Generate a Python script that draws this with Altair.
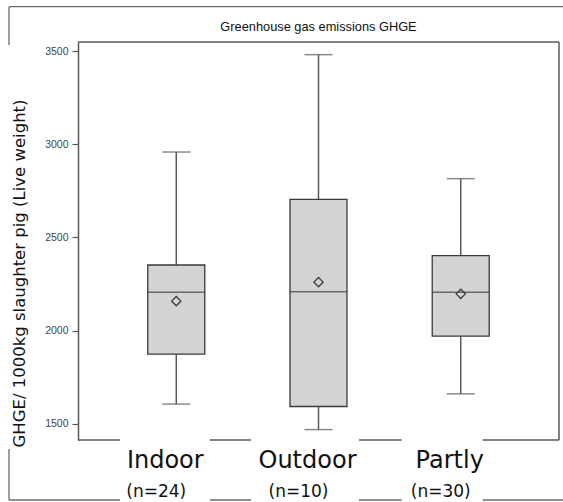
import altair as alt
import pandas as pd

# Box-plot statistics per production system (GHGE per 1000 kg slaughter pig)
systems = ["Indoor", "Outdoor", "Partly"]
n_farms = [24, 10, 30]
whisker_low = [1605, 1468, 1660]
q1 = [1873, 1592, 1970]
median = [2206, 2209, 2206]
mean = [2158, 2260, 2197]
q3 = [2352, 2705, 2402]
whisker_high = [2959, 3482, 2816]
y_ticks = [1500, 2000, 2500, 3000, 3500]

df = pd.DataFrame({
    "system": systems,
    "low": whisker_low,
    "q1": q1,
    "median": median,
    "mean": mean,
    "q3": q3,
    "high": whisker_high,
    "n_label": [f"(n={n})" for n in n_farms],
})

W, H = 481, 398
LINE = "#585858"
EDGE = "#3a3a3a"
FILL = "#d4d4d4"

x_enc = alt.X("system:N", sort=systems, axis=None,
              scale=alt.Scale(paddingInner=0, paddingOuter=0.191))
y_scale = alt.Scale(domain=[1412, 3550], nice=False, zero=False)
y_axis = alt.Axis(
    title="GHGE/ 1000kg slaughter  pig (Live weight)",
    values=y_ticks, format="d", grid=False,
    domainColor=LINE, domainWidth=1.5,
    tickColor=LINE, tickWidth=1.2, tickSize=6,
    labelFont="Liberation Sans", labelFontSize=10.5, labelColor="#444444",
    labelPadding=4,
    titleFont="DejaVu Sans", titleFontSize=16.5, titleFontWeight="normal",
    titleColor="#111111", titleAngle=270, titleAlign="center",
    titleBaseline="alphabetic", titleX=-54, titleY=231,
)


def Y(field):
    return alt.Y(f"{field}:Q", scale=y_scale, axis=y_axis)


def seg(x1, x2, y1, y2, color=LINE, width=1.5):
    enc = dict(x=alt.value(x1), y=alt.value(y1))
    if x2 != x1:
        enc["x2"] = alt.value(x2)
    if y2 != y1:
        enc["y2"] = alt.value(y2)
    return (alt.Chart(alt.Data(values=[{"k": 0}]))
            .mark_rule(color=color, strokeWidth=width)
            .encode(**enc))


# Frame: plot border (bottom edge interrupted under the category labels)
gaps = [(0, 42), (132, 173), (281, 323.7), (404.7, W)]
frame = [seg(0, W, 0, 0), seg(W, W, 0, H)]
frame += [seg(a, b, H, H) for a, b in gaps]
# Outer frame around the whole figure
OX, OT, OB, OR = -69, -35.3, 458, 485
outer_gaps = [(OX, 42), (132, 173), (281, 323.7), (404.7, OR)]
frame += [seg(OX, OR, OT, OT, "#6a6a6a", 1.3),
          seg(OX, OX, OT, 3, "#6a6a6a", 1.3),
          seg(OX, OX, 407, OB, "#6a6a6a", 1.3)]
frame += [seg(a, b, OB, OB, "#6a6a6a", 1.3) for a, b in outer_gaps]

base = alt.Chart(df)

whisker_lo = base.mark_rule(color=LINE, strokeWidth=1.5).encode(
    x=x_enc, y=Y("low"), y2="q1:Q")
whisker_hi = base.mark_rule(color=LINE, strokeWidth=1.5).encode(
    x=x_enc, y=Y("q3"), y2="high:Q")
cap_lo = base.mark_tick(size=28, thickness=1.5, color=LINE, orient="horizontal").encode(
    x=x_enc, y=Y("low"))
cap_hi = base.mark_tick(size=28, thickness=1.5, color=LINE, orient="horizontal").encode(
    x=x_enc, y=Y("high"))
box = base.mark_bar(size=57, fill=FILL, stroke=EDGE, strokeWidth=1.3).encode(
    x=x_enc, y=Y("q1"), y2="q3:Q")
med = base.mark_tick(size=57, thickness=1.5, color=EDGE, orient="horizontal").encode(
    x=x_enc, y=Y("median"))
avg = base.mark_point(shape="diamond", size=85, filled=False, color=EDGE,
                      strokeWidth=1.3, opacity=1).encode(x=x_enc, y=Y("mean"))

cat_label = base.mark_text(font="DejaVu Sans", fontSize=24, baseline="alphabetic",
                           align="center", dx=-11, color="#111111").encode(
    x=x_enc, y=alt.value(426), text="system:N")
n_label = base.mark_text(font="DejaVu Sans", fontSize=17, baseline="alphabetic",
                         align="center", dx=-20, color="#111111").encode(
    x=x_enc, y=alt.value(454.5), text="n_label:N")

title = (alt.Chart(alt.Data(values=[{"t": "Greenhouse gas emissions GHGE"}]))
         .mark_text(font="Liberation Sans", fontSize=12.8, baseline="alphabetic",
                    align="center", color="#111111")
         .encode(x=alt.value(W / 2), y=alt.value(-11), text="t:N"))

chart = alt.layer(
    *frame, whisker_lo, whisker_hi, box, med, avg, cap_lo, cap_hi,
    cat_label, n_label, title,
).properties(
    width=W, height=H,
    autosize=alt.AutoSizeParams(type="none"),
    padding={"left": 78, "top": 42, "right": 4, "bottom": 62},
    background="white",
).configure_view(stroke=None)

chart.save("out.html", embed_options={"renderer": "svg", "actions": False})
